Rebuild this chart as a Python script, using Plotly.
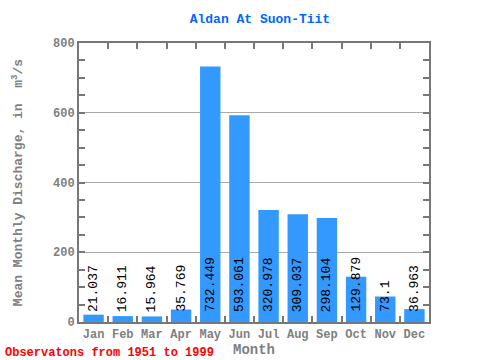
import plotly.graph_objects as go

months = ["Jan", "Feb", "Mar", "Apr", "May", "Jun", "Jul", "Aug", "Sep", "Oct", "Nov", "Dec"]
discharge = [21.037, 16.911, 15.964, 35.769, 732.449, 593.061, 320.978, 309.037, 298.104, 129.879, 73.1, 36.963]
labels = ["21.037", "16.911", "15.964", "35.769", "732.449", "593.061", "320.978", "309.037", "298.104", "129.879", "73.1", "36.963"]

mono = "Liberation Mono, Courier New, monospace"
axis_gray = "#777777"

fig = go.Figure()
fig.add_trace(go.Bar(x=months, y=discharge, marker=dict(color="#3399ff", line=dict(width=0)),
                     width=0.7, hoverinfo="x+y"))

for m, v, t in zip(months, discharge, labels):
    fig.add_annotation(x=m, y=0, text=t, textangle=-90, showarrow=False,
                       xanchor="center", yanchor="bottom", yshift=8,
                       font=dict(family=mono, size=13, color="black"))

fig.update_layout(
    width=480, height=360,
    margin=dict(l=79, r=51, t=43, b=38, autoexpand=False),
    paper_bgcolor="white", plot_bgcolor="white",
    showlegend=False,
    title=dict(text="Aldan At Suon-Tiit", x=0.517, xanchor="center", xref="paper",
               y=0.95, yref="container", yanchor="middle",
               font=dict(family=mono, size=13, color="#0066ff", weight="bold")),
    font=dict(family=mono),
)
fig.update_xaxes(
    type="category", tickson="boundaries", ticks="inside", ticklen=6, tickwidth=2, tickcolor=axis_gray,
    showline=True, linecolor=axis_gray, linewidth=2, mirror="ticks", tickangle=0, automargin=False,
    tickfont=dict(family=mono, size=12, color="#808080", weight="bold"),
    title=dict(text="Month", font=dict(family=mono, size=14, color="#808080", weight="bold"), standoff=0),
    showgrid=False,
)
fig.update_yaxes(
    range=[0, 800], dtick=200, ticks="inside", ticklen=6, tickwidth=2, tickcolor=axis_gray,
    minor=dict(dtick=50, ticks="inside", ticklen=6, tickwidth=1.5, tickcolor=axis_gray, showgrid=False),
    showline=True, linecolor=axis_gray, linewidth=2, mirror="ticks", automargin=False,
    showgrid=True, gridcolor="#aaaaaa", gridwidth=1,
    tickfont=dict(family=mono, size=12, color="#808080", weight="bold"),
    title=dict(text="Mean Monthly Discharge, in  m<sup>3</sup>/s",
               font=dict(family=mono, size=13, color="#808080", weight="bold"), standoff=27),
    zeroline=False,
)
fig.add_annotation(x=0, y=0, xref="paper", yref="paper", xanchor="left", yanchor="middle",
                   xshift=-76, yshift=-31, showarrow=False,
                   text="Observatons from 1951 to 1999",
                   font=dict(family=mono, size=12, color="#ff0000", weight="bold"))

fig.write_html("out.html", config={"displayModeBar": False},
               post_script="document.body.style.margin='0';document.body.style.overflow='hidden';")
